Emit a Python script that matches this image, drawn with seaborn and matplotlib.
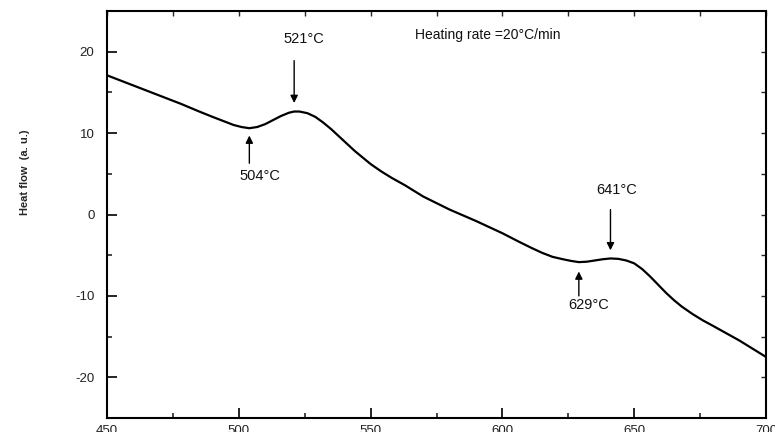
import matplotlib
matplotlib.use("Agg")
import matplotlib.pyplot as plt
import seaborn as sns
import pandas as pd

# DSC trace: temperature (°C) vs heat flow (a.u.)
temperature = [450, 460, 470, 478, 485, 490, 494, 498, 501, 504, 507, 510, 513,
               516, 519, 521, 523, 526, 529, 532, 535, 538, 541, 544, 547, 550,
               554, 558, 563, 570, 580, 590, 600, 606, 611, 615, 619, 623, 626,
               629, 632, 635, 638, 641, 644, 647, 650, 653, 656, 659, 662, 665,
               668, 672, 676, 680, 685, 690, 695, 700]
heat_flow = [17.1, 15.85, 14.6, 13.6, 12.65, 12.0, 11.5, 11.0, 10.75, 10.6,
             10.75, 11.1, 11.6, 12.1, 12.5, 12.65, 12.65, 12.45, 12.0, 11.3,
             10.5, 9.6, 8.7, 7.8, 7.0, 6.2, 5.3, 4.5, 3.6, 2.2, 0.6, -0.8,
             -2.3, -3.3, -4.1, -4.7, -5.2, -5.5, -5.7, -5.85, -5.8, -5.65,
             -5.5, -5.4, -5.45, -5.65, -6.0, -6.7, -7.6, -8.6, -9.6, -10.5,
             -11.3, -12.2, -13.0, -13.7, -14.6, -15.5, -16.5, -17.5]

# Characteristic temperatures with arrow extent and label placement
peaks = [504, 521, 629, 641]
arrow_tail = [6.3, 18.9, -10.0, 0.6]
arrow_tip = [9.7, 13.7, -7.0, -4.4]
text_dx = [4.0, 3.5, 3.6, 2.5]
text_y = [4.7, 21.6, -11.1, 3.0]

x_ticks = [450, 500, 550, 600, 650, 700]
x_minor = [475, 525, 575, 625, 675]
y_ticks = [-20, -10, 0, 10, 20]
y_minor = [-15, -5, 5, 15]

sns.set_theme(style="ticks")
plt.rcParams["font.family"] = ["Liberation Sans", "DejaVu Sans"]

df = pd.DataFrame({"Temperature": temperature, "Heat flow": heat_flow})

fig = plt.figure(figsize=(7.75, 4.32), dpi=100)
ax = fig.add_axes([107 / 775, 1 - 418 / 432, 659 / 775, 407 / 432])

sns.lineplot(data=df, x="Temperature", y="Heat flow", ax=ax,
             color="black", linewidth=1.6, sort=False)

ax.set_xlim(450, 700)
ax.set_ylim(-25, 25)
ax.set_xticks(x_ticks)
ax.set_yticks(y_ticks)
ax.set_xticks(x_minor, minor=True)
ax.set_yticks(y_minor, minor=True)
ax.set_xticklabels([str(v) for v in x_ticks])
ax.set_yticklabels([str(v) for v in y_ticks])

ax.tick_params(axis="both", which="major", direction="in", length=7.5,
               width=1.2, labelsize=9.5, colors="black", labelcolor="#222222")
ax.tick_params(axis="both", which="minor", direction="in", length=3.8,
               width=1.2)
ax.tick_params(axis="y", which="major", pad=9)
ax.tick_params(axis="x", which="major", pad=5)

for s in ax.spines.values():
    s.set_visible(True)
    s.set_linewidth(1.5)
    s.set_color("black")

# short inward ticks along the top and right edges
top = ax.secondary_xaxis("top")
top.set_xticks(x_ticks + x_minor)
top.tick_params(direction="in", length=3.5, width=1.0, labeltop=False)
right = ax.secondary_yaxis("right")
right.set_yticks(y_ticks + y_minor)
right.tick_params(direction="in", length=3.5, width=1.0, labelright=False)

ax.set_xlabel("")
ax.set_ylabel("Heat flow  (a. u.)", fontsize=8, fontweight="bold")
ax.yaxis.set_label_coords(-0.117, 0.604)

for t, y0, y1, dx, ty in zip(peaks, arrow_tail, arrow_tip, text_dx, text_y):
    ax.annotate("", xy=(t, y1), xytext=(t, y0),
                arrowprops=dict(arrowstyle="-|>", color="black", lw=1.0,
                                mutation_scale=11, shrinkA=0, shrinkB=0))
    ax.text(t + dx, ty, f"{t}°C", ha="center", va="center", fontsize=10.5,
            color="#111111")

ax.text(567, 22.0, "Heating rate =20°C/min", ha="left", va="center",
        fontsize=10, color="#111111")

fig.savefig("out.png", dpi=100)
